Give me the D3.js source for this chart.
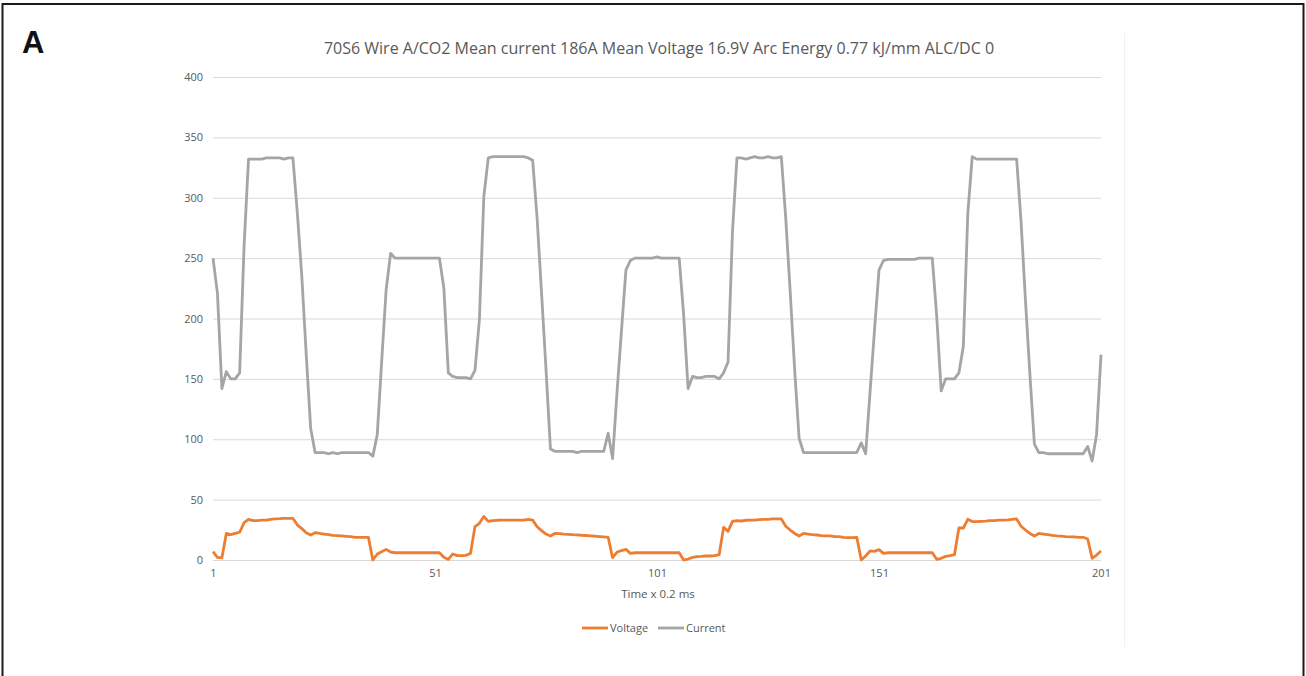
<!DOCTYPE html>
<html>
<head>
<meta charset="utf-8">
<script src="https://cdn.jsdelivr.net/npm/d3@7"></script>
<style>
  body { margin: 0; background: #fff; }
  svg { display: block; }
  .tick text { font-family: "Open Sans", sans-serif; font-size: 11px; fill: #595959; }
</style>
</head>
<body>
<div id="chart"></div>
<script>
const title = "70S6 Wire A/CO2 Mean current 186A Mean Voltage 16.9V Arc Energy 0.77 kJ/mm ALC/DC 0";
const xLabel = "Time x 0.2 ms";
const yTicks = [0, 50, 100, 150, 200, 250, 300, 350, 400];
const xTicks = [1, 51, 101, 151, 201];
const seriesNames = ["Voltage", "Current"];

// samples 1..201
const current = [
  250, 221, 142, 156, 150, 150, 155, 260, 332, 332,
  332, 332, 333, 333, 333, 333, 332, 333, 333, 287,
  235, 170, 109, 89, 89, 89, 88, 89, 88, 89,
  89, 89, 89, 89, 89, 89, 86, 104, 165, 224,
  254, 250, 250, 250, 250, 250, 250, 250, 250, 250,
  250, 250, 225, 155, 152, 151, 151, 151, 150, 157,
  199, 301, 333, 334, 334, 334, 334, 334, 334, 334,
  334, 333, 331, 283, 221, 158, 92, 90, 90, 90,
  90, 90, 89, 90, 90, 90, 90, 90, 90, 105,
  84, 139, 190, 240, 248, 250, 250, 250, 250, 250,
  251, 250, 250, 250, 250, 250, 203, 142, 152, 151,
  151, 152, 152, 152, 150, 155, 164, 272, 333, 333,
  332, 333, 334, 333, 333, 334, 333, 333, 334, 283,
  222, 158, 101, 89, 89, 89, 89, 89, 89, 89,
  89, 89, 89, 89, 89, 89, 97, 88, 140, 191,
  240, 248, 249, 249, 249, 249, 249, 249, 249, 250,
  250, 250, 250, 202, 140, 150, 150, 150, 155, 177,
  287, 334, 332, 332, 332, 332, 332, 332, 332, 332,
  332, 332, 280, 214, 153, 96, 89, 89, 88, 88,
  88, 88, 88, 88, 88, 88, 88, 94, 82, 104,
  170
];

const voltage = [
  7, 2.2, 1.7, 22, 21, 22, 23, 31, 33.7, 32.6,
  32.6, 33, 33, 33.7, 34, 34.2, 34.5, 34.5, 34.5, 29,
  26, 22.6, 20.7, 22.6, 22, 21.5, 21, 20.4, 20.2, 19.9,
  19.6, 19.3, 18.8, 18.8, 18.8, 18.8, 0, 5, 6.9, 8.8,
  6.6, 6, 6, 6, 6, 6, 6, 6, 6, 6,
  6, 6, 2.2, 0.5, 5, 3.6, 3.6, 3.9, 5.5, 27.6,
  30.4, 36, 32, 32.6, 32.9, 33, 33, 33, 33, 33,
  33, 33.7, 33, 27.6, 24.3, 21.5, 19.9, 22, 21.8, 21.5,
  21.3, 21, 20.8, 20.5, 20.3, 20, 19.7, 19.4, 19.1, 18.8,
  1.9, 6.6, 7.7, 8.8, 5.5, 6, 6, 6, 6, 6,
  6, 6, 6, 6, 6, 6, 0, 0.8, 2.2, 2.8,
  3, 3.3, 3.3, 3.6, 4.4, 27, 23.7, 32, 32.6, 32.3,
  32.9, 33, 33, 33.4, 33.7, 33.7, 34, 34, 34, 28,
  24.8, 22, 19.9, 22, 21.5, 21, 20.7, 20.2, 19.9, 19.9,
  19.3, 19.3, 18.8, 18.5, 18.5, 18.8, 0, 3.3, 7.5, 7.2,
  8.6, 5.5, 6, 6, 6, 6, 6, 6, 6, 6,
  6, 6, 6, 0.6, 1.4, 3, 3.6, 4.4, 26.5, 26.5,
  33.7, 31.8, 31.8, 32, 32.2, 32.6, 32.6, 33, 33, 33.2,
  33.7, 34, 28, 24.8, 22, 19.9, 22, 21.5, 21, 20.4,
  19.9, 19.7, 19.3, 19.1, 19.1, 18.8, 18.8, 17.4, 1.4, 4.1,
  7.5
];

const colors = { Voltage: "#ED7D31", Current: "#A5A5A5" };

const W = 1306, H = 676;
const plot = { left: 213, right: 1101, top: 77, bottom: 560 };

const svg = d3.select("#chart").append("svg")
    .attr("width", W)
    .attr("height", H);

svg.append("rect")
    .attr("width", W).attr("height", H)
    .attr("fill", "#fff");

// outer frame
svg.append("rect")
    .attr("x", 2.5).attr("y", 4)
    .attr("width", W - 5).attr("height", H + 20)
    .attr("fill", "none")
    .attr("stroke", "#1a1a1a")
    .attr("stroke-width", 2);

// faint chart-area edge
svg.append("line")
    .attr("x1", 1124.5).attr("x2", 1124.5)
    .attr("y1", 33).attr("y2", 647)
    .attr("stroke", "#f0f0f0");

svg.append("text")
    .attr("x", 22).attr("y", 53)
    .attr("font-family", "Liberation Sans, Arial, sans-serif")
    .attr("font-weight", "bold")
    .attr("font-size", 31)
    .attr("fill", "#111")
    .text("A");

svg.append("text")
    .attr("x", 659).attr("y", 54)
    .attr("text-anchor", "middle")
    .attr("font-family", "Open Sans, sans-serif")
    .attr("font-size", 16)
    .attr("fill", "#595959")
    .text(title);

const x = d3.scaleLinear().domain([1, 201]).range([plot.left, plot.right]);
const y = d3.scaleLinear().domain([0, 400]).range([plot.bottom, plot.top]);

// gridlines + y labels
const yAxis = svg.append("g")
    .attr("transform", `translate(${plot.left},0)`)
    .call(d3.axisLeft(y).tickValues(yTicks).tickSize(-(plot.right - plot.left)).tickPadding(10));
yAxis.select(".domain").remove();
yAxis.selectAll(".tick line").attr("stroke", "#d9d9d9");

const xAxis = svg.append("g")
    .attr("transform", `translate(0,${plot.bottom})`)
    .call(d3.axisBottom(x).tickValues(xTicks).tickSize(0).tickPadding(9));
xAxis.select(".domain").remove();

svg.append("text")
    .attr("x", (plot.left + plot.right) / 2 + 1).attr("y", 598)
    .attr("text-anchor", "middle")
    .attr("font-family", "Open Sans, sans-serif")
    .attr("font-size", 11.5)
    .attr("fill", "#595959")
    .text(xLabel);

const line = d3.line()
    .x((d, i) => x(i + 1))
    .y(d => y(d));

svg.append("path")
    .datum(voltage)
    .attr("fill", "none")
    .attr("stroke", colors.Voltage)
    .attr("stroke-width", 2.8)
    .attr("stroke-linejoin", "round")
    .attr("d", line);

svg.append("path")
    .datum(current)
    .attr("fill", "none")
    .attr("stroke", colors.Current)
    .attr("stroke-width", 2.8)
    .attr("stroke-linejoin", "round")
    .attr("d", line);

// legend
const legend = svg.append("g").attr("transform", "translate(582,628)");
const legendX = [0, 76];
seriesNames.forEach((name, i) => {
    const g = legend.append("g").attr("transform", `translate(${legendX[i]},0)`);
    g.append("line")
        .attr("x1", 0).attr("x2", 26)
        .attr("stroke", colors[name])
        .attr("stroke-width", 2.8);
    g.append("text")
        .attr("x", 28).attr("y", 4)
        .attr("font-family", "Open Sans, sans-serif")
        .attr("font-size", 11)
        .attr("fill", "#595959")
        .text(name);
});
</script>
</body>
</html>
